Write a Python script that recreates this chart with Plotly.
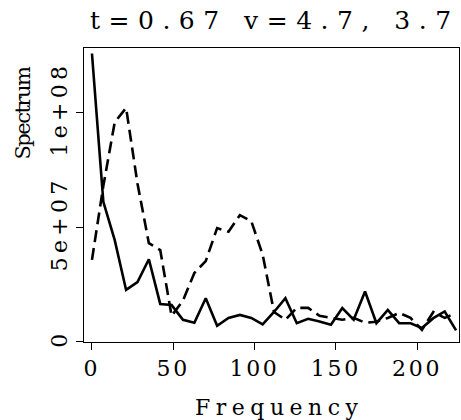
import plotly.graph_objects as go

freq = [0, 7, 14, 21, 28, 35, 42, 49, 56, 63, 70, 77, 84, 91, 98, 105, 112,
        119, 126, 133, 140, 147, 154, 161, 168, 175, 182, 189, 196, 203, 210, 217, 224]
solid = [1.257e8, 6.1e7, 4.43e7, 2.26e7, 2.6e7, 3.6e7, 1.65e7, 1.6e7, 0.96e7, 0.83e7,
         1.9e7, 0.7e7, 1.04e7, 1.17e7, 1.04e7, 0.76e7, 1.3e7, 1.9e7, 0.81e7, 1.0e7,
         0.88e7, 0.74e7, 1.47e7, 0.96e7, 2.19e7, 0.81e7, 1.39e7, 0.81e7, 0.81e7, 0.6e7,
         1.03e7, 1.32e7, 0.5e7]
dashed = [3.57e7, 6.8e7, 9.57e7, 1.02e8, 6.9e7, 4.3e7, 4.0e7, 1.13e7, 1.8e7, 3.0e7,
          3.52e7, 4.96e7, 4.8e7, 5.52e7, 5.26e7, 3.8e7, 1.3e7, 0.96e7, 1.48e7, 1.48e7,
          1.13e7, 1.04e7, 0.96e7, 1.04e7, 0.83e7, 0.87e7, 1.04e7, 1.26e7, 1.04e7, 0.52e7,
          1.3e7, 1.04e7, 1.26e7]
x_ticks = [0, 50, 100, 150, 200]
y_ticks = [0, 5e7, 1e8]
y_tick_labels = ["0", "5e+07", "1e+08"]
title_text = "t=0.67 v=4.7, 3.7"
x_label = "Frequency"
y_label = "Spectrum"

FONT = "DejaVu Serif"


def sp(t, ls):
    return ('<span style="font-family:\'DejaVu Serif\',serif;letter-spacing:%.1fpx">%s</span>'
            % (ls, t))


fig = go.Figure()
fig.add_trace(go.Scatter(x=freq, y=solid, mode="lines",
                         line=dict(color="black", width=2.6), showlegend=False))
fig.add_trace(go.Scatter(x=freq, y=dashed, mode="lines",
                         line=dict(color="black", width=2.6, dash="12px,6px"), showlegend=False))

axis_common = dict(showline=True, linecolor="black", linewidth=1, mirror=True,
                   ticks="outside", ticklen=7, tickwidth=1, tickcolor="black",
                   showgrid=False, zeroline=False,
                   tickfont=dict(family=FONT, size=22, color="black"))

fig.update_layout(
    width=461, height=420,
    margin=dict(l=84, r=2, t=48, b=78),
    paper_bgcolor="white", plot_bgcolor="white",
    font=dict(family=FONT, color="black"),
    xaxis=dict(range=[-4.9, 225.8], tickvals=x_ticks,
               ticktext=[sp(str(v), 2.7) for v in x_ticks], **axis_common),
    yaxis=dict(range=[-0.1e6, 1.281e8], tickvals=y_ticks,
               ticktext=[sp(t, 4.3) for t in y_tick_labels], tickangle=-90, **axis_common),
    annotations=[
        dict(text=sp(title_text, 8.5), xref="paper", yref="paper", x=0.509, y=1.092,
             xanchor="center", yanchor="middle", showarrow=False,
             font=dict(family=FONT, size=25, color="black")),
        dict(text=sp(x_label, 5.5), xref="paper", yref="paper", x=0.522, y=-0.224,
             xanchor="center", yanchor="middle", showarrow=False,
             font=dict(family=FONT, size=22, color="black")),
        dict(text=sp(y_label, -1.5), xref="paper", yref="paper", x=-0.163, y=0.78,
             xanchor="center", yanchor="middle", showarrow=False, textangle=-90,
             font=dict(family=FONT, size=21, color="black")),
    ],
)

fig.write_html("out.html")
